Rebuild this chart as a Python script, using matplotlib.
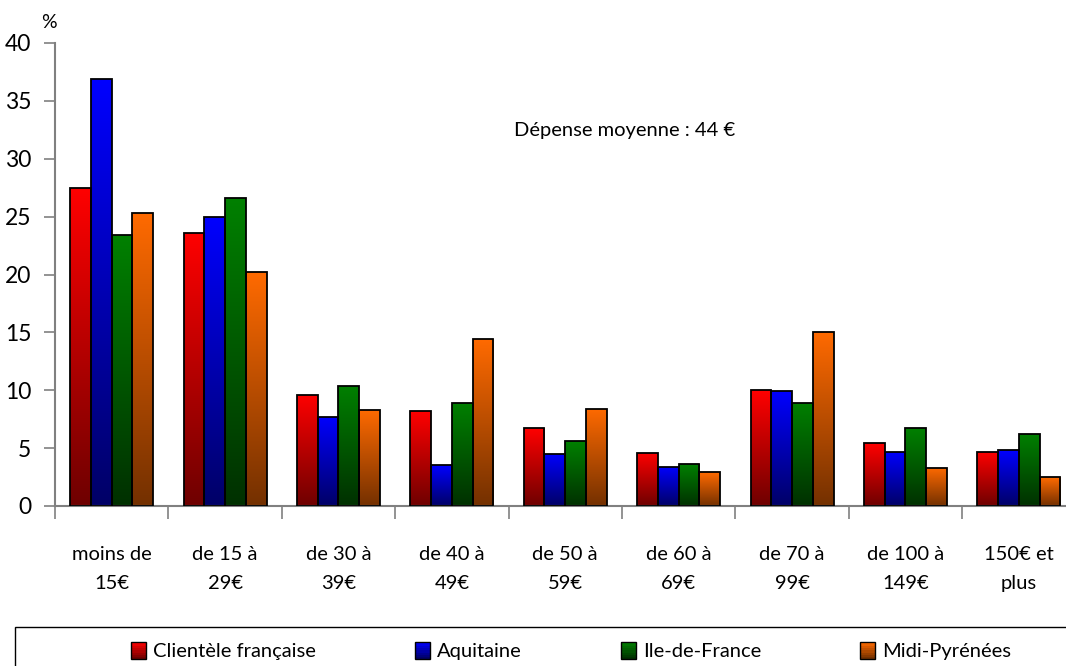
import numpy as np
import matplotlib
matplotlib.use("Agg")
import matplotlib.pyplot as plt
from matplotlib.colors import LinearSegmentedColormap
from matplotlib.patches import Rectangle
from matplotlib.legend_handler import HandlerBase

plt.rcParams['font.family'] = ['Lato', 'DejaVu Sans']

categories = ["moins de\n15€", "de 15 à\n29€", "de 30 à\n39€", "de 40 à\n49€",
              "de 50 à\n59€", "de 60 à\n69€", "de 70 à\n99€", "de 100 à\n149€",
              "150€ et\nplus"]
series_names = ["Clientèle française", "Aquitaine", "Ile-de-France", "Midi-Pyrénées"]
clientele = [27.5, 23.6, 9.6, 8.2, 6.7, 4.6, 10.0, 5.4, 4.7]
aquitaine = [36.9, 25.0, 7.7, 3.5, 4.5, 3.4, 9.9, 4.7, 4.8]
ile_de_france = [23.4, 26.6, 10.4, 8.9, 5.6, 3.6, 8.9, 6.7, 6.2]
midi_pyrenees = [25.3, 20.2, 8.3, 14.4, 8.4, 2.9, 15.0, 3.3, 2.5]
series = [clientele, aquitaine, ile_de_france, midi_pyrenees]

# (bottom colour, top colour)
grads = [("#6e0000", "#ff0000"),
         ("#000066", "#0000ff"),
         ("#003000", "#008000"),
         ("#733000", "#ff6a00")]

fig = plt.figure(figsize=(10.66, 6.66), dpi=100)
ax = fig.add_axes([55/1066, 1-506/666, 1020.5/1066, 463/666])

x = np.arange(len(categories))
w = 0.183
grad_img = np.linspace(0, 1, 256).reshape(-1, 1)

for i, vals in enumerate(series):
    cmap = LinearSegmentedColormap.from_list("g%d" % i, grads[i])
    xs = x + (i - 1.5) * w
    bars = ax.bar(xs, vals, width=w, color="none", edgecolor="black", linewidth=1.3, zorder=3)
    for b in bars:
        bx, by = b.get_x(), b.get_y()
        bw, bh = b.get_width(), b.get_height()
        im = ax.imshow(grad_img, cmap=cmap, origin="lower", aspect="auto",
                       extent=[bx, bx + bw, by, by + bh], zorder=2)
        im.set_clip_path(b)

ax.set_xlim(-0.5, 8.5)
ax.set_ylim(0, 40)
ax.set_yticks(range(0, 41, 5))
ax.set_xticks(np.arange(-0.5, 8.6, 1), minor=False)
ax.set_xticklabels([])
ax.set_xticks(x, minor=True)
ax.set_xticklabels(categories, minor=True, fontsize=14.5, linespacing=1.85)
ax.tick_params(axis="x", which="minor", length=0, pad=29)
ax.tick_params(axis="x", which="major", length=9, width=1.2, color="#808080", direction="out")
ax.tick_params(axis="y", length=8, width=1.2, color="#808080", labelsize=16.5, pad=9)
for s in ["top", "right"]:
    ax.spines[s].set_visible(False)
for s in ["left", "bottom"]:
    ax.spines[s].set_color("#808080")
    ax.spines[s].set_linewidth(1.5)

fig.text(49/1066, 1-22/666, "%", fontsize=14, ha="center", va="center")
ax.text(4.52, 32.4, "Dépense moyenne : 44 €", fontsize=14.5, ha="center", va="center")


class GradHandler(HandlerBase):
    def __init__(self, cols):
        super().__init__()
        self.cols = cols

    def create_artists(self, legend, orig_handle, xdescent, ydescent, width, height, fontsize, trans):
        cmap = LinearSegmentedColormap.from_list("lg", self.cols)
        n = 8
        arts = []
        for k in range(n):
            r = Rectangle((-xdescent, -ydescent + k * height / n), width, height / n,
                          facecolor=cmap(k / (n - 1)), edgecolor="none", transform=trans)
            arts.append(r)
        frame = Rectangle((-xdescent, -ydescent), width, height, facecolor="none",
                          edgecolor="black", linewidth=1.0, transform=trans)
        arts.append(frame)
        return arts


handles = [Rectangle((0, 0), 1, 1) for _ in series_names]
hmap = {h: GradHandler(grads[i]) for i, h in enumerate(handles)}
leg = fig.legend(handles, series_names, handler_map=hmap, ncol=4, loc="center",
                 bbox_to_anchor=(571/1066, 1-651/666), frameon=False, fontsize=14.5,
                 handlelength=0.75, handleheight=0.95, handletextpad=0.35, columnspacing=4.9)

fig.add_artist(Rectangle((15/1066, -0.1), 1.2, 0.1 + (1-627/666), transform=fig.transFigure,
                         facecolor="none", edgecolor="black", linewidth=1.0))

fig.savefig("out.png", dpi=100)
